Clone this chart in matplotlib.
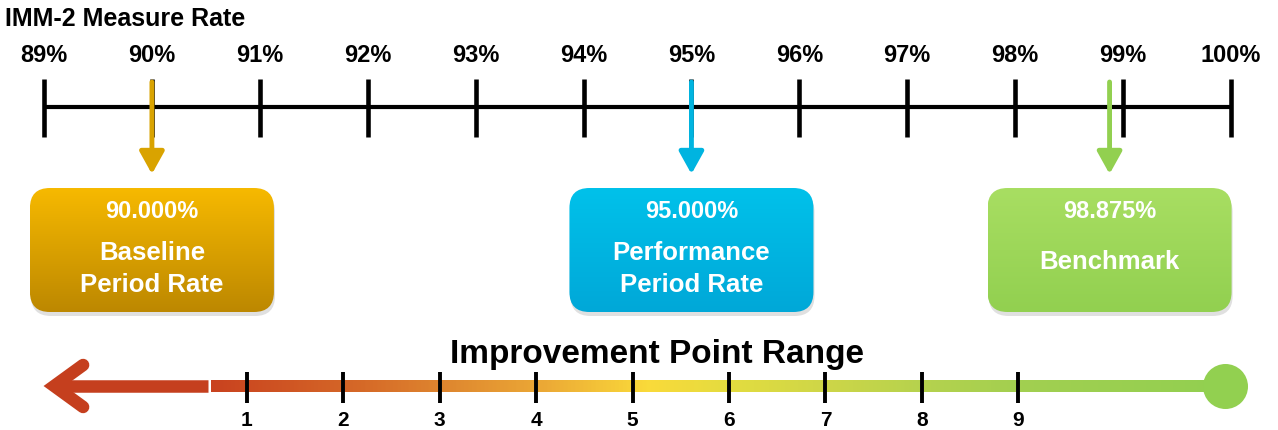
import numpy as np
import matplotlib.pyplot as plt
from matplotlib.colors import LinearSegmentedColormap, to_rgb
from matplotlib.patches import FancyBboxPatch

plt.rcParams['font.family'] = ['Liberation Sans', 'DejaVu Sans']

# measure rate scale (top)
rate_ticks = [89, 90, 91, 92, 93, 94, 95, 96, 97, 98, 99, 100]
rate_labels = ['89%', '90%', '91%', '92%', '93%', '94%', '95%', '96%', '97%', '98%', '99%', '100%']

# marked rates
marker_values = [90.000, 95.000, 98.875]
marker_names = ['Baseline\nPeriod Rate', 'Performance\nPeriod Rate', 'Benchmark']
arrow_colors = ['#D9A300', '#00B4E0', '#92D050']
box_top_colors = ['#F6B900', '#00C1EA', '#A8DE62']
box_bottom_colors = ['#BD8800', '#00A8D8', '#92D050']

# improvement point scale (bottom)
point_ticks = [1, 2, 3, 4, 5, 6, 7, 8, 9]

# colours along the improvement bar
bar_stops = [0.0, 0.15, 0.24, 0.33, 0.43, 0.52, 0.61, 0.71, 0.80, 1.0]
bar_colors = ['#C9421F', '#D66A28', '#E08A30', '#ECAA36', '#FADA3A',
              '#E2DC40', '#CDD648', '#B4D24E', '#A2CF50', '#92D050']

PX_PER_PCT = 107.9

fig = plt.figure(figsize=(12.78, 4.30), dpi=100)

ax = fig.add_axes([0, 0, 1, 1])
ax.axis('off')

axb = fig.add_axes([0, 0, 1, 1])
axb.axis('off')
axb.patch.set_alpha(0)

# --- top: measure rate line ---
fig.text(5 / 1278, 1 - 19 / 430, 'IMM-2 Measure Rate', ha='left', va='center',
         fontsize=18, fontweight='bold')
ax.hlines(107, rate_ticks[0], rate_ticks[-1], color='black', lw=3)
ax.vlines(rate_ticks, 79, 137, color='black', lw=3.3)
for t, lab in zip(rate_ticks, rate_labels):
    ax.text(t, 55, lab, ha='center', va='center', fontsize=17, fontweight='bold')

# --- arrows and boxes ---
box_w = 244 / PX_PER_PCT
box_y0, box_h = 188, 124
rnd = 20 / PX_PER_PCT
for v, name, ac, ct, cb in zip(marker_values, marker_names, arrow_colors,
                               box_top_colors, box_bottom_colors):
    ax.annotate('', xy=(v, 174), xytext=(v, 82),
                arrowprops=dict(arrowstyle='-|>,head_length=0.9,head_width=0.5',
                                color=ac, lw=3.5, shrinkA=0, shrinkB=0,
                                mutation_scale=15))
    x0 = v - box_w / 2
    shadow = FancyBboxPatch((x0 + 0.01, box_y0 + 4), box_w, box_h,
                            boxstyle=f'round,pad=0,rounding_size={rnd}',
                            mutation_aspect=PX_PER_PCT, fc='black', ec='none',
                            alpha=0.12, zorder=1)
    ax.add_patch(shadow)
    box = FancyBboxPatch((x0, box_y0), box_w, box_h,
                         boxstyle=f'round,pad=0,rounding_size={rnd}',
                         mutation_aspect=PX_PER_PCT, fc='none', ec='none', zorder=2)
    ax.add_patch(box)
    grad = np.linspace(0, 1, 64)[:, None, None]
    img = (1 - grad) * np.array(to_rgb(ct)) + grad * np.array(to_rgb(cb))
    im = ax.imshow(img, extent=[x0, x0 + box_w, box_y0 + box_h, box_y0],
                   aspect='auto', zorder=2)
    im.set_clip_path(box)
    ax.text(v, 212, f'{v:.3f}%', ha='center', va='center', color='white',
            fontsize=17, fontweight='bold', zorder=3)
    name_y = 269 if '\n' in name else 262
    ax.text(v, name_y, name, ha='center', va='center', color='white',
            fontsize=18.5, fontweight='bold', linespacing=1.45, zorder=3)

# --- bottom: improvement point range ---
axb.text(5.25, 354, 'Improvement Point Range', ha='center', va='center',
         fontsize=24, fontweight='bold')

axb.plot([-0.98, 0.60], [386, 386], color='#C53F1E', lw=9, solid_capstyle='butt')
axb.plot([-0.70, -1.0, -0.70], [365, 386, 407], color='#C53F1E', lw=9,
         solid_capstyle='round', solid_joinstyle='miter')

bar_start, bar_end = 0.63, 11.145
cmap = LinearSegmentedColormap.from_list('impr', list(zip(bar_stops, bar_colors)))
bar_img = cmap(np.linspace(0, 1, 512))[None, :, :3]
axb.imshow(bar_img, extent=[bar_start, bar_end, 392, 380], aspect='auto', zorder=2)
axb.scatter([bar_end], [386], s=1050, color='#92D050', zorder=3, linewidths=0)

axb.vlines(point_ticks, 372, 403, color='black', lw=2.8, zorder=4)
for p in point_ticks:
    axb.text(p, 420, str(p), ha='center', va='center', fontsize=15, fontweight='bold')

ax.set_xlim(88.592, 100.436)
ax.set_ylim(430, 0)
axb.set_xlim(-1.562, 11.695)
axb.set_ylim(430, 0)

fig.savefig('out.png', dpi=100)
